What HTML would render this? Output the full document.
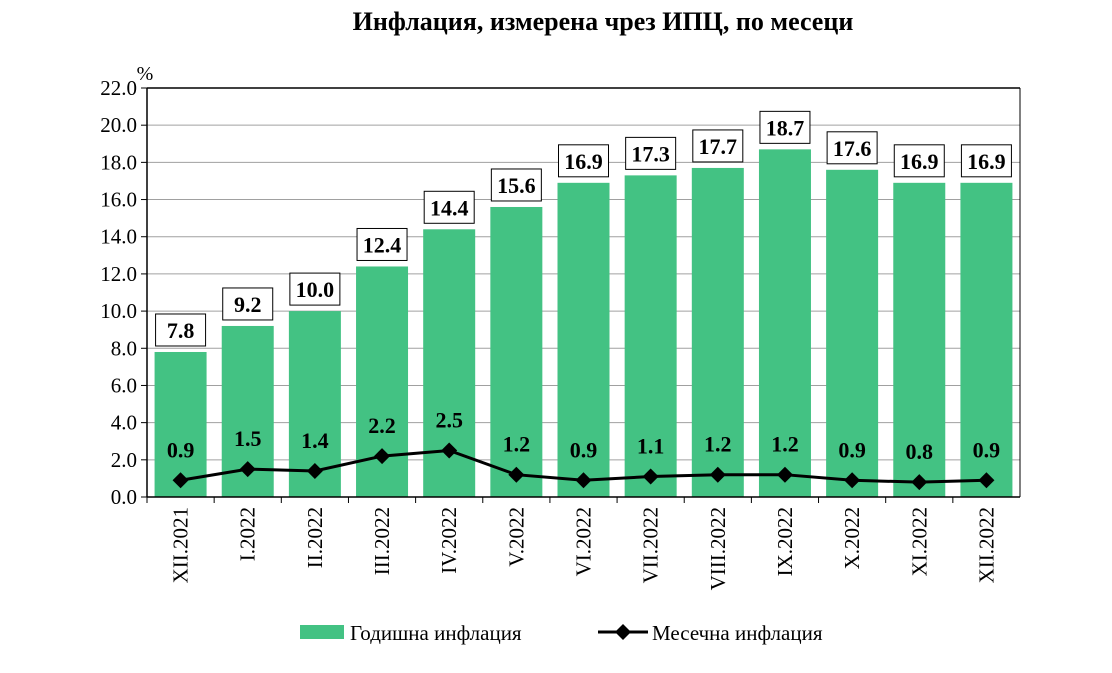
<!DOCTYPE html>
<html><head><meta charset="utf-8"><style>
body{margin:0;background:#fff;}
svg{display:block;font-family:"Liberation Serif",serif;}
</style></head><body>
<svg id="c" width="1112" height="673">
<text x="603" y="30" text-anchor="middle" font-size="26" font-weight="bold">Инфлация, измерена чрез ИПЦ, по месеци</text>
<text x="145" y="80" text-anchor="middle" font-size="20">%</text>
<g id="grid"></g><g id="bars"></g><g id="line"></g><g id="labels"></g><g id="axes"></g>
<g>
<rect x="300" y="625" width="44" height="14" fill="#43C283"/>
<text x="350" y="640" font-size="21">Годишна инфлация</text>
<line x1="598" y1="632" x2="648" y2="632" stroke="#000" stroke-width="3"/>
<path d="M623 624 L631 632 L623 640 L615 632Z" fill="#000"/>
<text x="652" y="640" font-size="21">Месечна инфлация</text>
</g>
</svg>
<script>
const categories=["XII.2021","I.2022","II.2022","III.2022","IV.2022","V.2022","VI.2022","VII.2022","VIII.2022","IX.2022","X.2022","XI.2022","XII.2022"];
const annual=[7.8,9.2,10.0,12.4,14.4,15.6,16.9,17.3,17.7,18.7,17.6,16.9,16.9];
const monthly=[0.9,1.5,1.4,2.2,2.5,1.2,0.9,1.1,1.2,1.2,0.9,0.8,0.9];
const yTicks=[0,2,4,6,8,10,12,14,16,18,20,22];
const NS="http://www.w3.org/2000/svg";
const PL=147,PR=1020,PT=88,PB=497,YMAX=22;
const bw=(PR-PL)/categories.length;
const yS=v=>PB-(v/YMAX)*(PB-PT);
const xS=i=>PL+bw*(i+0.5);
function mk(p,tag,at){const e=document.createElementNS(NS,tag);for(const k in at)e.setAttribute(k,at[k]);document.getElementById(p).appendChild(e);return e;}
yTicks.forEach(t=>{
 if(t>0&&t<YMAX){const g=mk('grid','line',{x1:PL,x2:PR,y1:yS(t),y2:yS(t),stroke:'#a0a0a0','stroke-width':1});
 
 }
 const tk=mk('axes','line',{x1:PL-6,x2:PL,y1:yS(t),y2:yS(t),stroke:'#000'});
 
 
 const tl=mk('axes','text',{x:PL-10,y:yS(t)+7,'text-anchor':'end','font-size':21});
 tl.textContent=t.toFixed(1);
 
 
});
const topBorder=mk('axes','line',{x1:PL,x2:PR,y1:PT,y2:PT,stroke:'#000','stroke-width':1.5});


const yAxisLine=mk('axes','line',{x1:PL,x2:PL,y1:PT,y2:PB,stroke:'#000','stroke-width':1.5});


const xAxisLine=mk('axes','line',{x1:PL,x2:PR,y1:PB,y2:PB,stroke:'#000','stroke-width':1.5});


const rightBorder=mk('axes','line',{x1:PR,x2:PR,y1:PT,y2:PB,stroke:'#000','stroke-width':1});


categories.forEach((c,i)=>{
 const xt=PL+bw*i;
 const tk=mk('axes','line',{x1:xt,x2:xt,y1:PB,y2:PB+6,stroke:'#000'});
 
 
 const cx=xS(i);
 const lb=mk('axes','text',{x:0,y:0,'text-anchor':'end','font-size':21,transform:`translate(${cx+7},${PB+10}) rotate(-90)`});
 lb.textContent=c;
 
 
 const b=mk('bars','rect',{x:cx-26,y:yS(annual[i]),width:52,height:PB-yS(annual[i]),fill:'#43C283'});
 
 
 const by=yS(annual[i])-38;
 const bx=mk('labels','rect',{x:cx-25,y:by,width:50,height:32,fill:'#fff',stroke:'#000','stroke-width':1});
 
 
 const bt=mk('labels','text',{x:cx,y:by+24,'text-anchor':'middle','font-size':22,'font-weight':'bold'});
 bt.textContent=annual[i].toFixed(1);
 
 
 const mt=mk('labels','text',{x:cx,y:yS(monthly[i])-23,'text-anchor':'middle','font-size':22,'font-weight':'bold'});
 mt.textContent=monthly[i].toFixed(1);
 
 
});
const pl=mk('line','polyline',{points:monthly.map((v,i)=>xS(i)+','+yS(v)).join(' '),fill:'none',stroke:'#000','stroke-width':3});


monthly.forEach((v,i)=>{
 const cx=xS(i),cy=yS(v);
 const m=mk('line','path',{d:`M${cx} ${cy-8} L${cx+8} ${cy} L${cx} ${cy+8} L${cx-8} ${cy}Z`,fill:'#000'});
 
 
});
</script>
</body></html>
